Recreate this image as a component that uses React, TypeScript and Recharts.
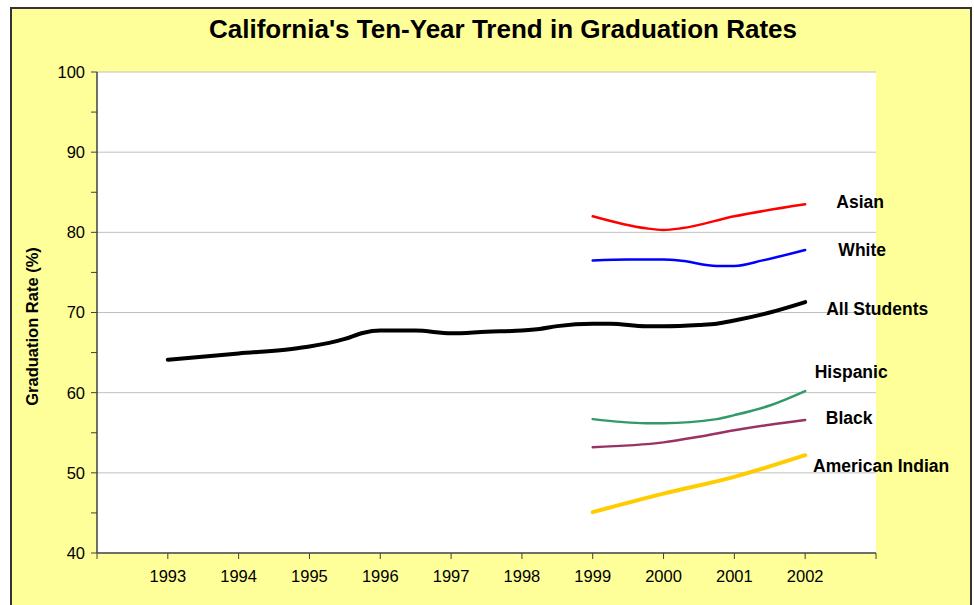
import React from 'react';
import { LineChart, Line, XAxis, YAxis, CartesianGrid, ReferenceLine, LabelList } from 'recharts';

const allYears = [1993, 1994, 1994.75, 1995, 1995.5, 1995.75, 1996, 1996.5, 1997, 1997.5, 1998, 1998.25, 1998.5, 1999, 1999.25, 1999.75, 2000, 2000.5, 2000.75, 2001, 2001.5, 2002];
const allRates = [64.1, 64.9, 65.45, 65.75, 66.7, 67.45, 67.75, 67.75, 67.4, 67.6, 67.75, 67.95, 68.3, 68.6, 68.6, 68.3, 68.3, 68.45, 68.6, 69.0, 70.0, 71.3];

const asianYears = [1999, 1999.75, 2000, 2000.25, 2001, 2002];
const asianRates = [82.0, 80.5, 80.3, 80.5, 82.0, 83.5];

const whiteYears = [1999, 1999.5, 2000, 2000.25, 2000.75, 2001, 2001.4, 2002];
const whiteRates = [76.5, 76.6, 76.6, 76.45, 75.8, 75.8, 76.5, 77.8];

const hispanicYears = [1999, 1999.75, 2000, 2000.75, 2001, 2001.5, 2002];
const hispanicRates = [56.7, 56.2, 56.2, 56.7, 57.2, 58.4, 60.2];

const blackYears = [1999, 2000, 2000.5, 2001, 2001.5, 2002];
const blackRates = [53.2, 53.8, 54.5, 55.3, 56.0, 56.6];

const indianYears = [1999, 2000, 2001, 2002];
const indianRates = [45.1, 47.4, 49.5, 52.2];

const xTicks = [1992, 1993, 1994, 1995, 1996, 1997, 1998, 1999, 2000, 2001, 2002, 2003];
const yTicks = [40, 45, 50, 55, 60, 65, 70, 75, 80, 85, 90, 95, 100];
const gridValues = [50, 60, 70, 80, 90, 100];

const toData = (years: number[], rates: number[]) => years.map((year, i) => ({ year, rate: rates[i] }));

const series = [
  { name: 'Asian', data: toData(asianYears, asianRates), color: '#FF0000', width: 2.5, dx: 55, dy: -2 },
  { name: 'White', data: toData(whiteYears, whiteRates), color: '#0000FF', width: 2.5, dx: 57, dy: 0 },
  { name: 'All Students', data: toData(allYears, allRates), color: '#000000', width: 4, dx: 72, dy: 7 },
  { name: 'Hispanic', data: toData(hispanicYears, hispanicRates), color: '#339966', width: 2.5, dx: 46, dy: -19 },
  { name: 'Black', data: toData(blackYears, blackRates), color: '#993366', width: 2.5, dx: 44, dy: -2 },
  { name: 'American Indian', data: toData(indianYears, indianRates), color: '#FFCC00', width: 4, dx: 76, dy: 11 },
];

const FONT = '"Liberation Sans", Arial, sans-serif';

const makeLabel = (name: string, count: number, dx: number, dy: number) => (props: any) => {
  const { x, y, index } = props;
  if (index !== count - 1) return null;
  return (
    <text x={x + dx} y={y + dy} textAnchor="middle" dominantBaseline="central"
      fontFamily={FONT} fontWeight="bold" fontSize={17.5} fill="#000">{name}</text>
  );
};

const YLabel = (props: any) => {
  const { viewBox } = props;
  const cx = 32;
  const cy = viewBox.y + viewBox.height / 2 + 14;
  return (
    <text x={cx} y={cy} transform={`rotate(-90, ${cx}, ${cy})`} textAnchor="middle" dominantBaseline="central"
      fontFamily={FONT} fontWeight="bold" fontSize={16.5} fill="#000">Graduation Rate (%)</text>
  );
};

export default function App() {
  return (
    <div style={{ position: 'absolute', left: 0, top: 0, width: 974, height: 605, overflow: 'hidden', background: '#fff' }}>
      <div style={{ position: 'absolute', left: 10, top: 7, width: 962, height: 640, background: '#FFFF99', border: '2px solid #333', boxSizing: 'border-box' }} />
      <div style={{ position: 'absolute', left: 0, top: 14, width: 1006, textAlign: 'center', fontFamily: FONT, fontWeight: 'bold', fontSize: 26, color: '#000' }}>
        California's Ten-Year Trend in Graduation Rates
      </div>
      <div style={{ position: 'absolute', left: 0, top: 0 }}>
        <LineChart width={974} height={605} margin={{ top: 72, right: 98, bottom: 0, left: 0 }}>
          <CartesianGrid horizontal={false} vertical={false} fill="#ffffff" />
          {gridValues.map((v) => (
            <ReferenceLine key={v} y={v} stroke="#c0c0c0" strokeWidth={1} ifOverflow="extendDomain" />
          ))}
          <XAxis type="number" dataKey="year" domain={[1992, 2003]} ticks={xTicks} allowDuplicatedCategory={false}
            tickFormatter={(v: number) => (v === 1992 || v === 2003 ? '' : String(v))}
            axisLine={{ stroke: '#404040', strokeWidth: 1.5 }} tickLine={{ stroke: '#404040' }} tickSize={6} tickMargin={11}
            height={52} tick={{ fill: '#000', fontSize: 16.5, fontFamily: FONT }} interval={0} />
          <YAxis type="number" domain={[40, 100]} ticks={yTicks} interval={0}
            tickFormatter={(v: number) => (v % 10 === 0 ? String(v) : '')}
            axisLine={{ stroke: '#404040', strokeWidth: 1.5 }} tickLine={{ stroke: '#404040' }} tickSize={6} tickMargin={6}
            width={97} tick={{ fill: '#000', fontSize: 16.5, fontFamily: FONT }}
            label={<YLabel />} />
          {series.map((s) => (
            <Line key={s.name} data={s.data} dataKey="rate" type="monotone" stroke={s.color} strokeWidth={s.width}
              dot={false} activeDot={false} isAnimationActive={false} strokeLinecap="round">
              <LabelList dataKey="rate" content={makeLabel(s.name, s.data.length, s.dx, s.dy)} />
            </Line>
          ))}
        </LineChart>
      </div>
    </div>
  );
}
